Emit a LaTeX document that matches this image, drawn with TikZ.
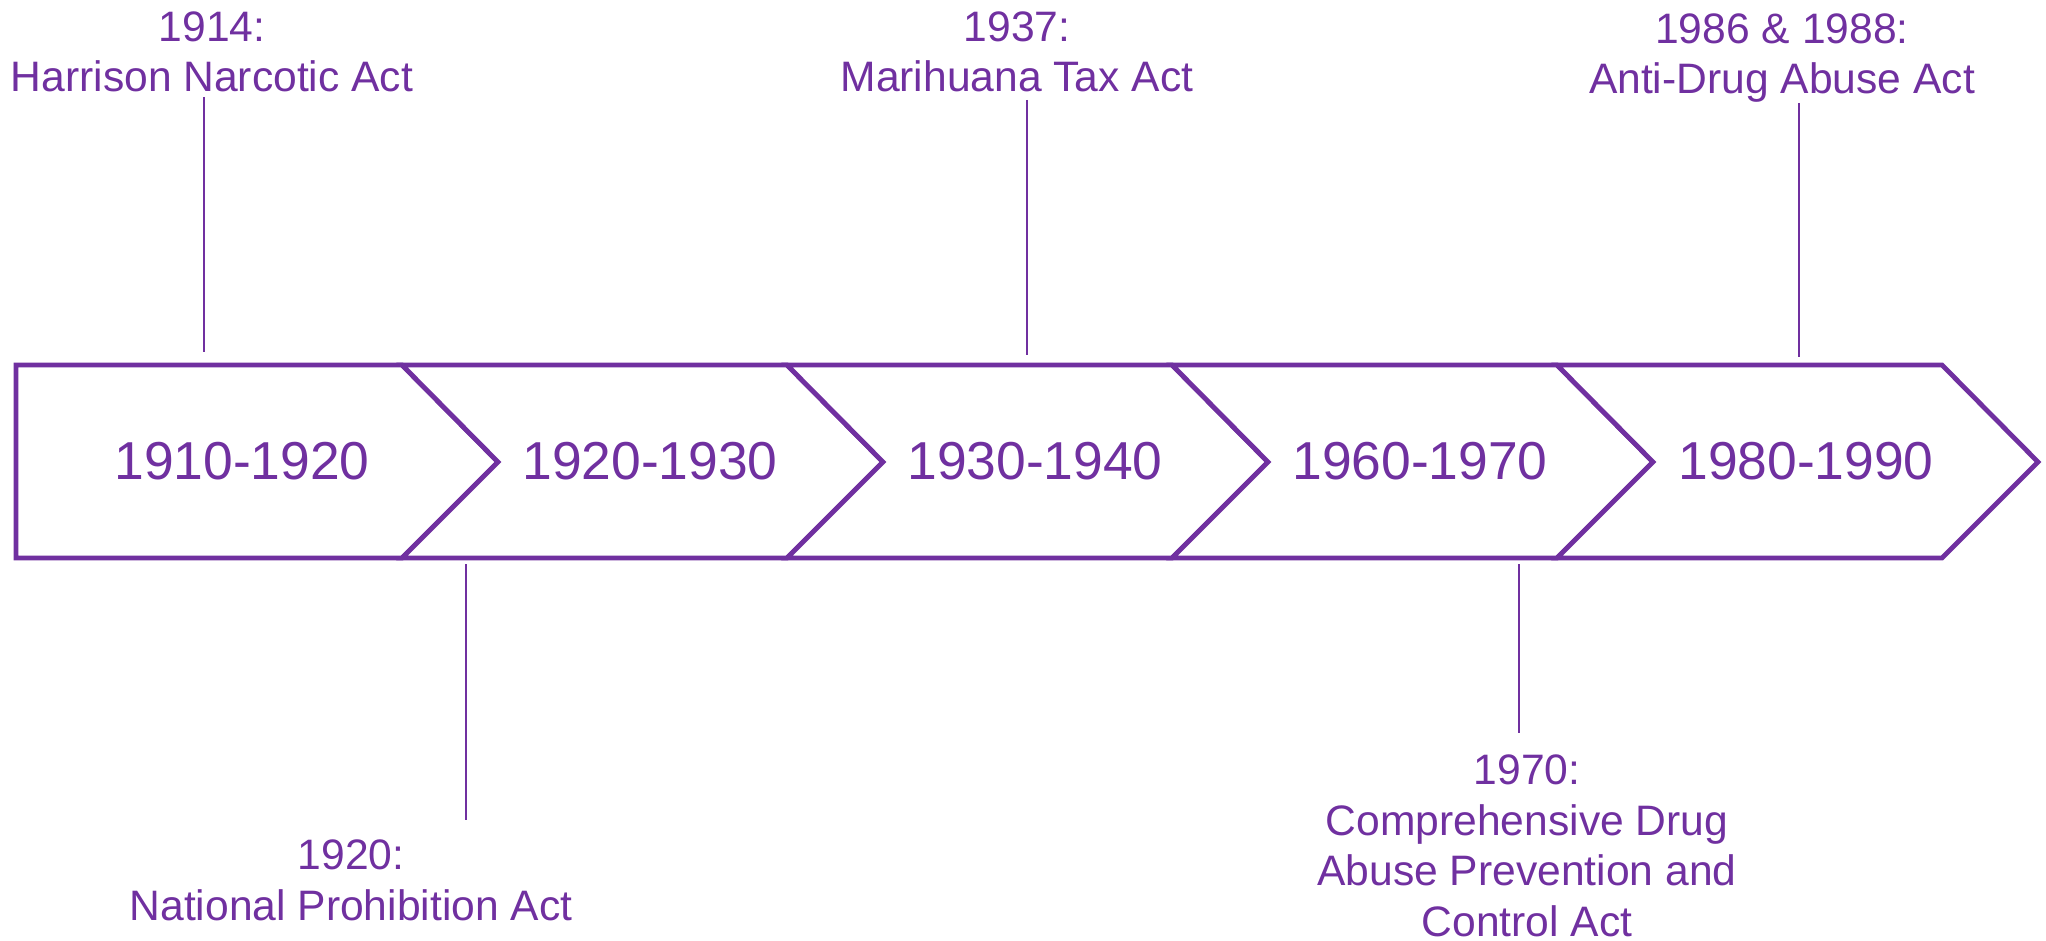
\documentclass[tikz,border=0pt]{standalone}
\usepackage{fontspec}
\setmainfont{Liberation Sans}
\definecolor{vio}{HTML}{7030A0}
\begin{document}
\begin{tikzpicture}[x=0.5pt,y=-0.5pt,
  chev/.style={draw=vio, line width=2.4pt, fill=white},
  period/.style={text=vio, font=\fontsize{26.7}{30}\selectfont, inner sep=0pt},
  event/.style={text=vio, font=\fontsize{21.3}{25.2}\selectfont, align=center, inner sep=0pt, anchor=base},
  tick/.style={draw=vio, line width=1pt}]
\useasboundingbox (0,0) rectangle (2046,941);
% chevrons
\draw[chev] (16,365) -- (402,365) -- (498,462) -- (402,558) -- (16,558) -- cycle;
\foreach \x in {402,787,1172,1557}{
  \draw[chev] (\x,365) -- ({\x+385},365) -- ({\x+481},462) -- ({\x+385},558) -- (\x,558) -- ({\x+96},462) -- cycle;
}
% period labels
\node[period] (p1) at (242,461) {1910-1920};
\node[period] (p2) at (650,461) {1920-1930};
\node[period] (p3) at (1035,461) {1930-1940};
\node[period] (p4) at (1420,461) {1960-1970};
\node[period] (p5) at (1806,461) {1980-1990};
% events (anchor = baseline of last line)
\node[event] (e1) at (212,92) {1914:\\Harrison Narcotic Act};
\node[event] (e2) at (1017,92) {1937:\\Marihuana Tax Act};
\node[event] (e3) at (1782,94) {1986 \& 1988:\\Anti-Drug Abuse Act};
\node[event] (e4) at (351,920) {1920:\\National Prohibition Act};
\node[event] (e5) at (1527,936) {1970:\\Comprehensive Drug\\Abuse Prevention and\\Control Act};
% connectors
\coordinate (t1a) at (204,97);  \coordinate (t1b) at (204,352);
\coordinate (t2a) at (1027,100); \coordinate (t2b) at (1027,355);
\coordinate (t3a) at (1799,103); \coordinate (t3b) at (1799,357);
\coordinate (b1a) at (466,564); \coordinate (b1b) at (466,820);
\coordinate (b2a) at (1519,564); \coordinate (b2b) at (1519,733);
\draw[tick] (t1a) -- (t1b);
\draw[tick] (t2a) -- (t2b);
\draw[tick] (t3a) -- (t3b);
\draw[tick] (b1a) -- (b1b);
\draw[tick] (b2a) -- (b2b);
\end{tikzpicture}
\end{document}
